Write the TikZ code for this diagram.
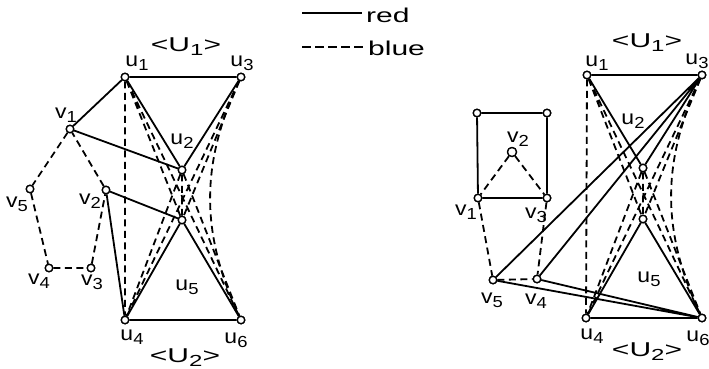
\documentclass[tikz,border=0pt]{standalone}
\usepackage{fontspec}
\newfontfamily\labfont[FakeStretch=1.15]{Liberation Sans}
\newfontfamily\legfont[FakeStretch=1.5]{Liberation Sans}
\newcommand\sbs[1]{\raisebox{-0.4ex}{\fontsize{16}{16}\selectfont #1}}
\begin{document}
\begin{tikzpicture}[x=1pt,y=-1pt,
  vtx/.style={circle,draw,fill=white,inner sep=0pt,minimum size=7.5pt,line width=1.3pt},
  lab/.style={inner sep=0pt,font={\labfont\fontsize{20}{20}\selectfont}},
  grp/.style={inner sep=0pt,font={\legfont\fontsize{20}{20}\selectfont}},
  leg/.style={inner sep=0pt,anchor=west,font={\legfont\fontsize{20}{20}\selectfont}},
  rededge/.style={line width=1.8pt},
  blueedge/.style={line width=1.8pt,dash pattern=on 7pt off 4.5pt},
]
\useasboundingbox (0,0) rectangle (709,369);

% ---------- legend ----------
\coordinate (ra) at (302,13);
\coordinate (rb) at (362,13);
\coordinate (ba) at (302,47);
\coordinate (bb) at (366,47);
\draw[rededge] (ra) -- (rb);
\draw[line width=1.8pt,dash pattern=on 9pt off 4pt] (ba) -- (bb);
\node[leg] (legred) at (366,15) {red};
\node[leg] (legblue) at (368,48) {blue};

% ---------- left graph ----------
\node[vtx] (Lu1) at (125,77) {};
\node[vtx] (Lu3) at (241,77) {};
\node[vtx] (Lv1) at (70,129) {};
\node[vtx] (Lu2) at (182,170) {};
\node[vtx] (Lv5) at (30,189) {};
\node[vtx] (Lv2) at (106,190) {};
\node[vtx] (Lu5) at (182,220) {};
\node[vtx] (Lv4) at (49,268) {};
\node[vtx] (Lv3) at (91,268) {};
\node[vtx] (Lu4) at (125,320) {};
\node[vtx] (Lu6) at (241,320) {};

\draw[blueedge] (Lu1)--(Lu4) (Lu1)--(Lu5) (Lu1)--(Lu6)
  (Lu2)--(Lu4) (Lu2)--(Lu5) (Lu2)--(Lu6)
  (Lu3)--(Lu4) (Lu3)--(Lu5);
\draw[blueedge] (Lu3) to[bend right=25] (Lu6);
\draw[blueedge] (Lv1)--(Lv5) (Lv5)--(Lv4) (Lv4)--(Lv3) (Lv3)--(Lv2) (Lv2)--(Lv1);
\draw[rededge] (Lu1)--(Lu3) (Lu1)--(Lu2) (Lu2)--(Lu3) (Lu1)--(Lv1) (Lv1)--(Lu2)
  (Lv2)--(Lu5) (Lv2)--(Lu4) (Lu4)--(Lu5) (Lu5)--(Lu6) (Lu4)--(Lu6);

\foreach \n in {Lu1,Lu2,Lu3,Lu4,Lu5,Lu6,Lv1,Lv2,Lv3,Lv4,Lv5}
  \node[vtx] at (\n) {};

\node[grp] (LU1) at (186,47) {<U\sbs{1}>};
\node[grp] (LU2) at (185,358) {<U\sbs{2}>};
\node[lab] (lLu1) at (137,63) {u\sbs{1}};
\node[lab] (lLu3) at (242,63) {u\sbs{3}};
\node[lab] (lLv1) at (66,115) {v\sbs{1}};
\node[lab] (lLu2) at (182,141) {u\sbs{2}};
\node[lab] (lLv5) at (17,204) {v\sbs{5}};
\node[lab] (lLv2) at (90,201) {v\sbs{2}};
\node[lab] (lLv4) at (39,281) {v\sbs{4}};
\node[lab] (lLv3) at (92,282) {v\sbs{3}};
\node[lab] (lLu5) at (187,287) {u\sbs{5}};
\node[lab] (lLu4) at (132,337) {u\sbs{4}};
\node[lab] (lLu6) at (236,340) {u\sbs{6}};

% ---------- right graph ----------
\node[vtx] (Ru1) at (587,75) {};
\node[vtx] (Ru3) at (702,75) {};
\node[vtx] (Rs1) at (477,113) {};
\node[vtx] (Rs2) at (547,113) {};
\node[vtx,minimum size=9pt] (Rv2) at (512,152) {};
\node[vtx] (Rv1) at (478,198) {};
\node[vtx] (Rv3) at (547,198) {};
\node[vtx] (Ru2) at (643,168) {};
\node[vtx] (Ru5) at (643,219) {};
\node[vtx] (Rv5) at (493,280) {};
\node[vtx] (Rv4) at (537,279) {};
\node[vtx] (Ru4) at (586,318) {};
\node[vtx] (Ru6) at (702,318) {};

\draw[blueedge] (Ru1)--(Ru4) (Ru1)--(Ru5) (Ru1)--(Ru6)
  (Ru2)--(Ru4) (Ru2)--(Ru5) (Ru2)--(Ru6)
  (Ru3)--(Ru4) (Ru3)--(Ru5);
\draw[blueedge] (Ru3) to[bend right=25] (Ru6);
\draw[blueedge] (Rv2)--(Rv1) (Rv2)--(Rv3) (Rv1)--(Rv5) (Rv3)--(Rv4) (Rv5)--(Rv4);
\draw[rededge] (Ru1)--(Ru3) (Ru1)--(Ru2) (Ru2)--(Ru3)
  (Ru3)--(Rv5) (Ru3)--(Rv4) (Rv5)--(Ru6) (Rv4)--(Ru6)
  (Ru4)--(Ru5) (Ru5)--(Ru6) (Ru4)--(Ru6)
  (Rs1)--(Rs2) (Rs1)--(Rv1) (Rs2)--(Rv3) (Rv1)--(Rv3);

\foreach \n in {Ru1,Ru2,Ru3,Ru4,Ru5,Ru6,Rs1,Rs2,Rv1,Rv3,Rv4,Rv5}
  \node[vtx] at (\n) {};
\node[vtx,minimum size=9pt] at (Rv2) {};

\node[grp] (RU1) at (647,43) {<U\sbs{1}>};
\node[grp] (RU2) at (647,352) {<U\sbs{2}>};
\node[lab] (lRu1) at (597,63) {u\sbs{1}};
\node[lab] (lRu3) at (697,61) {u\sbs{3}};
\node[lab] (lRu2) at (633,121) {u\sbs{2}};
\node[lab] (lRv2) at (518,139) {v\sbs{2}};
\node[lab] (lRv1) at (466,212) {v\sbs{1}};
\node[lab] (lRv3) at (536,215) {v\sbs{3}};
\node[lab] (lRv5) at (492,300) {v\sbs{5}};
\node[lab] (lRv4) at (536,301) {v\sbs{4}};
\node[lab] (lRu5) at (649,279) {u\sbs{5}};
\node[lab] (lRu4) at (592,336) {u\sbs{4}};
\node[lab] (lRu6) at (698,338) {u\sbs{6}};
\end{tikzpicture}
\end{document}
